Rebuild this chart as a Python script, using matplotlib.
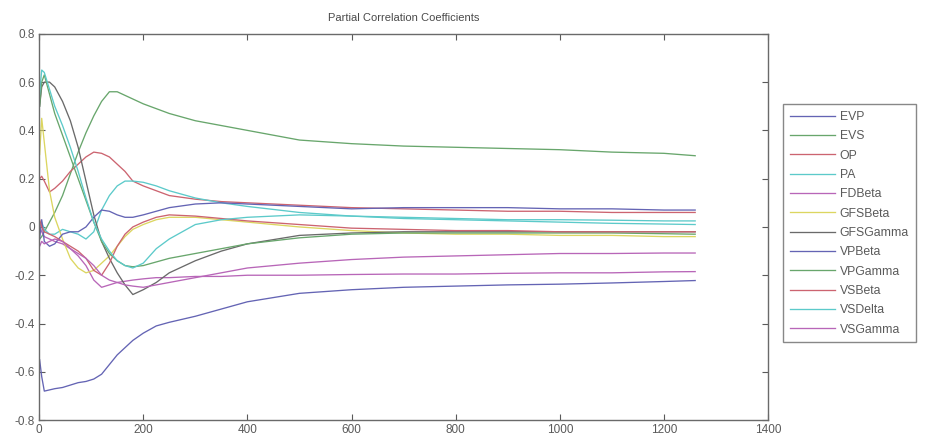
import matplotlib
matplotlib.use("Agg")
import matplotlib.pyplot as plt

plt.rcParams['font.family'] = ['Liberation Sans', 'DejaVu Sans']

X = [1, 5, 10, 20, 30, 45, 60, 75, 90, 105, 120, 135, 150, 165, 180, 200,
     225, 250, 300, 350, 400, 500, 600, 700, 800, 900, 1000, 1100, 1200, 1260]

names = ["EVP", "EVS", "OP", "PA", "FDBeta", "GFSBeta", "GFSGamma",
         "VPBeta", "VPGamma", "VSBeta", "VSDelta", "VSGamma"]

EVP = [-0.55, -0.62, -0.68, -0.675, -0.67, -0.665, -0.655, -0.645, -0.64, -0.63, -0.61, -0.57, -0.53, -0.50, -0.47, -0.44,
       -0.41, -0.395, -0.37, -0.34, -0.31, -0.275, -0.26, -0.25, -0.245, -0.24, -0.237, -0.232, -0.226, -0.222]
EVS = [-0.05, -0.04, -0.02, 0.02, 0.06, 0.13, 0.22, 0.31, 0.39, 0.46, 0.52, 0.56, 0.56, 0.545, 0.53, 0.51,
       0.49, 0.47, 0.44, 0.42, 0.40, 0.36, 0.345, 0.335, 0.33, 0.325, 0.32, 0.31, 0.305, 0.295]
OP = [0.20, 0.21, 0.19, 0.145, 0.16, 0.19, 0.23, 0.26, 0.29, 0.31, 0.305, 0.29, 0.26, 0.23, 0.19, 0.17,
      0.15, 0.13, 0.115, 0.105, 0.10, 0.09, 0.08, 0.075, 0.07, 0.065, 0.065, 0.06, 0.06, 0.06]
PA = [0.0, 0.02, -0.01, -0.03, -0.03, -0.01, -0.02, -0.03, -0.05, -0.02, 0.07, 0.13, 0.17, 0.19, 0.19, 0.185,
      0.17, 0.15, 0.12, 0.10, 0.085, 0.06, 0.045, 0.035, 0.03, 0.025, 0.02, 0.015, 0.012, 0.01]
FDBeta = [0.0, -0.02, -0.04, -0.05, -0.06, -0.07, -0.09, -0.12, -0.16, -0.22, -0.25, -0.24, -0.23, -0.225, -0.22, -0.215,
          -0.21, -0.21, -0.205, -0.205, -0.20, -0.20, -0.197, -0.195, -0.195, -0.192, -0.19, -0.19, -0.186, -0.185]
GFSBeta = [0.30, 0.45, 0.35, 0.15, 0.04, -0.05, -0.13, -0.17, -0.19, -0.18, -0.15, -0.12, -0.08, -0.04, -0.01, 0.01,
           0.03, 0.04, 0.04, 0.03, 0.02, 0.0, -0.015, -0.025, -0.03, -0.03, -0.035, -0.035, -0.04, -0.04]
GFSGamma = [0.50, 0.58, 0.60, 0.60, 0.58, 0.52, 0.44, 0.33, 0.19, 0.05, -0.06, -0.13, -0.19, -0.24, -0.28, -0.26,
            -0.23, -0.19, -0.14, -0.10, -0.07, -0.035, -0.025, -0.02, -0.02, -0.02, -0.02, -0.02, -0.02, -0.02]
VPBeta = [-0.05, 0.03, -0.06, -0.08, -0.07, -0.03, -0.02, -0.02, 0.0, 0.04, 0.07, 0.065, 0.05, 0.04, 0.04, 0.05,
          0.065, 0.08, 0.095, 0.10, 0.095, 0.085, 0.075, 0.08, 0.08, 0.08, 0.075, 0.075, 0.07, 0.07]
VPGamma = [0.50, 0.60, 0.63, 0.55, 0.47, 0.38, 0.29, 0.20, 0.11, 0.02, -0.06, -0.11, -0.14, -0.16, -0.165, -0.16,
           -0.145, -0.13, -0.11, -0.09, -0.07, -0.045, -0.03, -0.025, -0.025, -0.025, -0.025, -0.025, -0.028, -0.03]
VSBeta = [0.03, 0.0, -0.02, -0.03, -0.04, -0.06, -0.08, -0.10, -0.13, -0.18, -0.20, -0.15, -0.08, -0.03, 0.0, 0.02,
          0.04, 0.05, 0.045, 0.035, 0.025, 0.01, -0.005, -0.01, -0.015, -0.015, -0.02, -0.02, -0.02, -0.02]
VSDelta = [0.55, 0.65, 0.64, 0.57, 0.50, 0.42, 0.33, 0.23, 0.12, 0.02, -0.05, -0.10, -0.14, -0.16, -0.17, -0.15,
           -0.09, -0.05, 0.01, 0.03, 0.04, 0.05, 0.045, 0.04, 0.035, 0.03, 0.03, 0.028, 0.025, 0.025]
VSGamma = [-0.08, -0.06, -0.07, -0.06, -0.05, -0.06, -0.09, -0.11, -0.13, -0.16, -0.20, -0.22, -0.23, -0.24, -0.245, -0.25,
           -0.24, -0.23, -0.21, -0.19, -0.17, -0.15, -0.135, -0.125, -0.12, -0.115, -0.11, -0.11, -0.108, -0.108]

series = [EVP, EVS, OP, PA, FDBeta, GFSBeta, GFSGamma, VPBeta, VPGamma, VSBeta, VSDelta, VSGamma]

cycle = ['#6464b4', '#68a66c', '#cc6470', '#5ccaca', '#b866b8', '#dcd660', '#6a6a6a']

fig = plt.figure(figsize=(9.31, 4.45), dpi=100)
ax = fig.add_axes([0.042, 0.056, 0.783, 0.868])

for i, (n, s) in enumerate(zip(names, series)):
    ax.plot(X, s, color=cycle[i % len(cycle)], lw=0.95, label=n)

ax.set_xlim(0, 1400)
ax.set_ylim(-0.8, 0.8)
ax.set_xticks(range(0, 1401, 200))
ax.set_yticks([-0.8, -0.6, -0.4, -0.2, 0, 0.2, 0.4, 0.6, 0.8])
ax.set_yticklabels(["-0.8", "-0.6", "-0.4", "-0.2", "0", "0.2", "0.4", "0.6", "0.8"])
ax.tick_params(direction='in', top=True, right=True, length=4, labelsize=8.5,
               colors='#5a5a5a', pad=3)
for sp in ax.spines.values():
    sp.set_color('#6a6a6a')
    sp.set_linewidth(1.0)
ax.set_title("Partial Correlation Coefficients", fontsize=8, color='#4a4a4a', pad=9)

leg = fig.legend(loc='upper left', bbox_to_anchor=(0.841, 0.766), fontsize=8.8,
                 frameon=True, fancybox=False, edgecolor='#6a6a6a',
                 handlelength=3.7, labelspacing=0.6, borderpad=0.55,
                 handletextpad=0.4, borderaxespad=0)
leg.get_frame().set_linewidth(1.0)
for t in leg.get_texts():
    t.set_color('#5a5a5a')

fig.savefig("out.png", dpi=100)
